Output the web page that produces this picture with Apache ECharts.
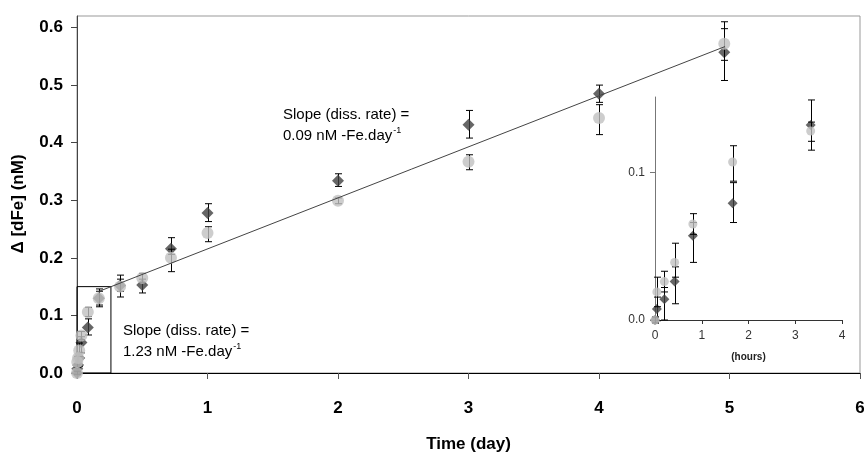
<!DOCTYPE html>
<html><head><meta charset="utf-8">
<script src="https://cdn.jsdelivr.net/npm/echarts@6/dist/echarts.min.js"></script>
<style>html,body{margin:0;padding:0;background:#fff}#c{width:864px;height:454px}</style>
</head><body><div id="c"></div>
<script>
// ---------- Data (main plot, time in days) ----------
const mainDays   = [0, 0.002, 0.008, 0.017, 0.034, 0.083, 0.167, 0.33, 0.5, 0.72, 1, 2, 3, 4, 4.96];
const darkMain   = [0, 0.0075, 0.014, 0.026, 0.053, 0.079, 0.13, 0.152, 0.153, 0.216, 0.278, 0.334, 0.431, 0.485, 0.557];
const darkPlus   = [0.002, 0.008, 0.008, 0.01, 0.01, 0.015, 0.012, 0.018, 0.01, 0.019, 0.016, 0.012, 0.025, 0.015, 0.053];
const darkMinus  = [0.002, 0.008, 0.014, 0.015, 0.018, 0.013, 0.012, 0.01, 0.014, 0.01, 0.015, 0.01, 0.023, 0.015, 0.049];
const grayMain   = [0, 0.019, 0.026, 0.039, 0.065, 0.106, 0.13, 0.150, 0.165, 0.2, 0.243, 0.299, 0.367, 0.443, 0.572];
const grayPlus   = [0.003, 0.01, 0.007, 0.013, 0.007, 0.008, 0.016, 0.013, 0.008, 0.015, 0.011, 0.005, 0.012, 0.023, 0.026];
const grayMinus  = [0.003, 0.01, 0.007, 0.01, 0.007, 0.008, 0.015, 0.018, 0.008, 0.024, 0.015, 0.005, 0.014, 0.029, 0.029];
// linear fit (0.09 nM/day)
const trendDays  = [0.16, 4.966];
const trendVals  = [0.141, 0.567];
// zoom box outline (days, nM)
const boxDays    = [0, 0.26, 0.26, 0, 0];
const boxVals    = [0, 0, 0.15, 0.15, 0];
// ---------- Data (inset, time in hours) ----------
const insetHours = [0, 0.04, 0.2, 0.42, 0.81, 1.66, 3.33];
const darkInset  = [0, 0.0075, 0.014, 0.026, 0.057, 0.079, 0.132];
const darkInPlus = [0.002, 0.008, 0.008, 0.01, 0.009, 0.014, 0.017];
const darkInMin  = [0.002, 0.008, 0.014, 0.015, 0.018, 0.013, 0.017];
const grayInset  = [0, 0.019, 0.026, 0.039, 0.065, 0.107, 0.128];
const grayInPlus = [0.002, 0.010, 0.007, 0.013, 0.007, 0.011, 0.006];
const grayInMin  = [0.002, 0.01, 0.007, 0.01, 0.007, 0.013, 0.007];
// ---------- Tick labels ----------
const mainYTicks = [0, 0.1, 0.2, 0.3, 0.4, 0.5, 0.6];
const insetYTicks = [0, 0.1];

const FONT = 'Liberation Sans, Arial, sans-serif';
const pts = (xs, ys) => xs.map((x, i) => [x, ys[i]]);
const errs = (xs, ys, p, m) => xs.map((x, i) => [x, ys[i] - m[i], ys[i] + p[i]]);

function errRender(capHalf) {
  return function (params, api) {
    const x = api.value(0), lo = api.value(1), hi = api.value(2);
    const a = api.coord([x, lo]), b = api.coord([x, hi]);
    const cx = Math.round(a[0]) + 0.5;
    const st = { stroke: '#000', lineWidth: 1 };
    return { type: 'group', children: [
      { type: 'line', shape: { x1: cx, y1: a[1], x2: cx, y2: b[1] }, style: st },
      { type: 'line', shape: { x1: cx - capHalf, y1: b[1], x2: cx + capHalf, y2: b[1] }, style: st },
      { type: 'line', shape: { x1: cx - capHalf, y1: a[1], x2: cx + capHalf, y2: a[1] }, style: st }
    ]};
  };
}

const ctx = document.createElement('canvas').getContext('2d');
ctx.font = '15px ' + FONT;
const w1 = ctx.measureText('0.09 nM -Fe.day').width;
const w2 = ctx.measureText('1.23 nM -Fe.day').width;

const chart = echarts.init(document.getElementById('c'), null, { renderer: 'canvas' });
chart.setOption({
  animation: false,
  backgroundColor: '#fff',
  grid: [
    { left: 77, right: 4, top: 16, bottom: 81, show: true, borderColor: '#999', borderWidth: 1,
      containLabel: false, outerBoundsMode: 'none' },
    { left: 655, right: 22, top: 97, bottom: 134, containLabel: false, outerBoundsMode: 'none' }
  ],
  xAxis: [
    { gridIndex: 0, type: 'value', min: 0, max: 6, interval: 1,
      name: 'Time (day)', nameLocation: 'middle', nameGap: 63,
      nameTextStyle: { fontFamily: FONT, fontSize: 17, fontWeight: 'bold', color: '#000' },
      axisLine: { lineStyle: { color: '#000', width: 1 } },
      axisTick: { inside: false, length: 6, lineStyle: { color: '#555' } },
      axisLabel: { margin: 27, fontFamily: FONT, fontSize: 17, fontWeight: 'bold', color: '#000' },
      splitLine: { show: false } },
    { gridIndex: 1, type: 'value', min: 0, max: 4, interval: 1,
      name: '(hours)', nameLocation: 'middle', nameGap: 32,
      nameTextStyle: { fontFamily: FONT, fontSize: 10, fontWeight: 'bold', color: '#222' },
      axisLine: { lineStyle: { color: '#333', width: 1 } },
      axisTick: { length: 4, lineStyle: { color: '#333' } },
      axisLabel: { margin: 10, fontFamily: FONT, fontSize: 12, color: '#333' },
      splitLine: { show: false } }
  ],
  yAxis: [
    { gridIndex: 0, type: 'value', min: 0, max: 0.62, interval: 0.1,
      axisLine: { show: true, lineStyle: { color: '#444', width: 1 } },
      axisTick: { show: true, length: 6, lineStyle: { color: '#444' }, customValues: mainYTicks },
      axisLabel: { margin: 14, fontFamily: FONT, fontSize: 17, fontWeight: 'bold', color: '#000',
                   customValues: mainYTicks, formatter: v => v.toFixed(1) },
      splitLine: { show: false } },
    { gridIndex: 1, type: 'value', min: 0, max: 0.151, interval: 0.1,
      axisLine: { show: true, lineStyle: { color: '#777', width: 1 } },
      axisTick: { show: true, length: 5, lineStyle: { color: '#777' }, customValues: insetYTicks },
      axisLabel: { margin: 10, fontFamily: FONT, fontSize: 12, color: '#333',
                   customValues: insetYTicks, formatter: v => v.toFixed(1) },
      splitLine: { show: false } }
  ],
  graphic: [
    { type: 'text', x: 18, y: 204, rotation: Math.PI / 2,
      style: { text: 'Δ [dFe] (nM)', fontFamily: FONT, fontSize: 17, fontWeight: 'bold', fill: '#000',
               align: 'center', verticalAlign: 'middle' } },
    { type: 'text', x: 283, y: 115, style: { text: 'Slope (diss. rate) =', fontFamily: FONT, fontSize: 15, fill: '#000', verticalAlign: 'middle' } },
    { type: 'text', x: 283, y: 136, style: { text: '0.09 nM -Fe.day', fontFamily: FONT, fontSize: 15, fill: '#000', verticalAlign: 'middle' } },
    { type: 'text', x: 283 + w1 + 1, y: 131, style: { text: '-1', fontFamily: FONT, fontSize: 9, fill: '#000', verticalAlign: 'middle' } },
    { type: 'text', x: 123, y: 331, style: { text: 'Slope (diss. rate) =', fontFamily: FONT, fontSize: 15, fill: '#000', verticalAlign: 'middle' } },
    { type: 'text', x: 123, y: 352, style: { text: '1.23 nM -Fe.day', fontFamily: FONT, fontSize: 15, fill: '#000', verticalAlign: 'middle' } },
    { type: 'text', x: 123 + w2 + 1, y: 347, style: { text: '-1', fontFamily: FONT, fontSize: 9, fill: '#000', verticalAlign: 'middle' } }
  ],
  series: [
    { type: 'line', xAxisIndex: 0, yAxisIndex: 0, data: pts(boxDays, boxVals), symbol: 'none',
      lineStyle: { color: '#000', width: 1 }, z: 1 },
    { type: 'custom', xAxisIndex: 0, yAxisIndex: 0, renderItem: errRender(3.5),
      data: errs(mainDays, darkMain, darkPlus, darkMinus), encode: { x: 0, y: [1, 2] }, z: 2 },
    { type: 'scatter', xAxisIndex: 0, yAxisIndex: 0, data: pts(mainDays, darkMain), symbol: 'diamond',
      symbolSize: 12, itemStyle: { color: '#404040' }, z: 3 },
    { type: 'custom', xAxisIndex: 0, yAxisIndex: 0, renderItem: errRender(3.5),
      data: errs(mainDays, grayMain, grayPlus, grayMinus), encode: { x: 0, y: [1, 2] }, z: 4 },
    { type: 'scatter', xAxisIndex: 0, yAxisIndex: 0, data: pts(mainDays, grayMain), symbol: 'circle',
      symbolSize: 12, itemStyle: { color: '#c0c0c0' }, z: 5 },
    { type: 'line', xAxisIndex: 0, yAxisIndex: 0, data: pts(trendDays, trendVals), symbol: 'none',
      lineStyle: { color: '#444', width: 1 }, z: 6 },
    { type: 'custom', xAxisIndex: 1, yAxisIndex: 1, renderItem: errRender(3.5),
      data: errs(insetHours, darkInset, darkInPlus, darkInMin), encode: { x: 0, y: [1, 2] }, z: 2 },
    { type: 'scatter', xAxisIndex: 1, yAxisIndex: 1, data: pts(insetHours, darkInset), symbol: 'diamond',
      symbolSize: 10, itemStyle: { color: '#404040' }, z: 3 },
    { type: 'custom', xAxisIndex: 1, yAxisIndex: 1, renderItem: errRender(3.5),
      data: errs(insetHours, grayInset, grayInPlus, grayInMin), encode: { x: 0, y: [1, 2] }, z: 4 },
    { type: 'scatter', xAxisIndex: 1, yAxisIndex: 1, data: pts(insetHours, grayInset), symbol: 'circle',
      symbolSize: 9, itemStyle: { color: '#c0c0c0' }, z: 5 }
  ]
});
</script></body></html>
